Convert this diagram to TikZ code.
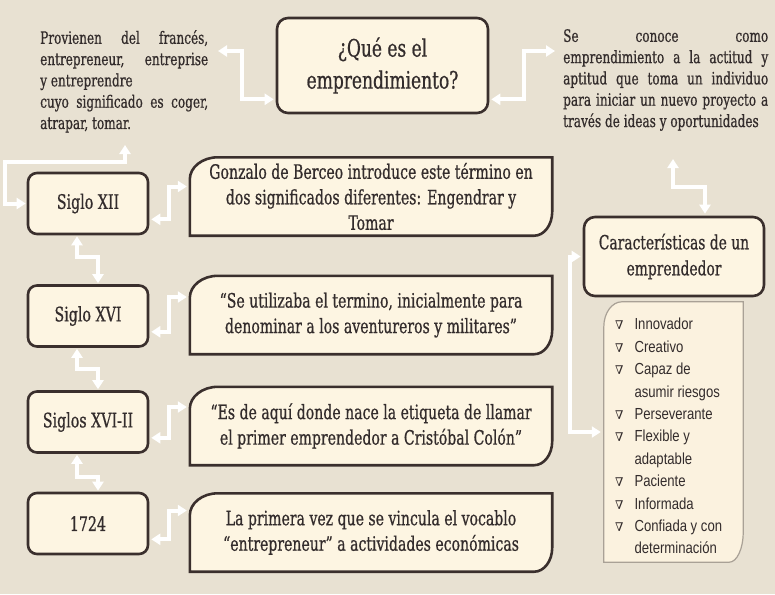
\documentclass[tikz,border=0pt]{standalone}
\usepackage{fontspec}
\setmainfont{DejaVu Serif Condensed}[FakeStretch=0.79,FakeBold=0.7]
\newfontfamily\listfont{Liberation Sans}[FakeStretch=0.82]
\newfontfamily\symfont{DejaVu Serif}
\usetikzlibrary{arrows.meta,backgrounds}
\definecolor{paper}{HTML}{E8E1D2}
\definecolor{boxfill}{HTML}{FDF5E2}
\definecolor{listfill}{HTML}{FBF2DF}
\definecolor{boxline}{HTML}{3A2F2D}
\definecolor{listline}{HTML}{A9A196}
\definecolor{ink}{HTML}{332C2C}
\tikzset{
  mainbox/.style={draw=boxline, fill=boxfill, line width=2.6pt, rounded corners=11pt,
    align=center, text=ink, inner sep=0pt},
  sigbox/.style={mainbox, rounded corners=9pt, minimum width=120pt, minimum height=61pt,
    font=\fontsize{20}{23}\selectfont},
  descbox/.style={minimum width=362pt, minimum height=78pt, align=center, text=ink,
    inner sep=0pt, font=\fontsize{19.8}{25.5}\selectfont},
  tabframe/.style={draw=boxline, fill=boxfill, line width=2.6pt},
  sidetext/.style={anchor=north west, align=justify, text=ink, inner sep=0pt,
    font=\fontsize{17}{21.3}\selectfont},
  conn/.style={draw=white, line width=4pt, <->, >={Triangle[length=9pt,width=11pt]}},
}
\begin{document}
\begin{tikzpicture}[x=1pt,y=-1pt]
  \useasboundingbox (0,0) rectangle (775,594);

  % title and the two side texts
  \node[mainbox, minimum width=211pt, minimum height=95pt,
    font=\fontsize{24}{32}\selectfont] (main) at (382.5,65.5)
    {¿Qué es el\\emprendimiento?};
  \node[sidetext, text width=168pt] (intro) at (40,30)
    {Provienen del francés,\linebreak entrepreneur, entreprise\linebreak
     y entreprendre\\cuyo significado es coger,\linebreak atrapar, tomar.};
  \node[sidetext, text width=205pt] (defi) at (563,29)
    {Se conoce como\linebreak emprendimiento a la actitud y\linebreak
     aptitud que toma un individuo\linebreak para iniciar un nuevo proyecto a\linebreak
     través de ideas y oportunidades};

  % time line
  \node[sigbox] (s1) at (88,203.5) {Siglo XII};
  \node[sigbox] (s2) at (88,316) {Siglo XVI};
  \node[sigbox] (s3) at (88,422) {Siglos XVI-II};
  \node[sigbox] (s4) at (88,523.5) {1724};

  \node[descbox] (d1) at (371,196.5)
    {Gonzalo de Berceo introduce este término en\\dos significados diferentes: Engendrar y\\Tomar};
  \node[descbox] (d2) at (371,315)
    {“Se utilizaba el termino, inicialmente para\\denominar a los aventureros y militares”};
  \node[descbox] (d3) at (371,426)
    {“Es de aquí donde nace la etiqueta de llamar\\el primer emprendedor a Cristóbal Colón”};
  \node[descbox] (d4) at (371,532.5)
    {La primera vez que se vincula el vocablo\\“entrepreneur” a actividades económicas};

  % characteristics
  \node[mainbox, minimum width=180pt, minimum height=79pt,
    font=\fontsize{19.5}{26}\selectfont] (car) at (674,256.5)
    {Características de un\\emprendedor};
  \node[minimum width=139pt, minimum height=260pt, inner sep=0pt] (list) at (673.5,432) {};
  \node[anchor=north west, inner sep=0pt, text=ink] (items) at (615,314)
    {\fontsize{16}{22.4}\selectfont\listfont
     \begin{tabular}{@{}l@{\hspace{11pt}}l@{}}
       {\symfont\fontsize{12}{12}\selectfont ∇} & Innovador\\
       {\symfont\fontsize{12}{12}\selectfont ∇} & Creativo\\
       {\symfont\fontsize{12}{12}\selectfont ∇} & Capaz de\\
       & asumir riesgos\\
       {\symfont\fontsize{12}{12}\selectfont ∇} & Perseverante\\
       {\symfont\fontsize{12}{12}\selectfont ∇} & Flexible y\\
       & adaptable\\
       {\symfont\fontsize{12}{12}\selectfont ∇} & Paciente\\
       {\symfont\fontsize{12}{12}\selectfont ∇} & Informada\\
       {\symfont\fontsize{12}{12}\selectfont ∇} & Confiada y con\\
       & determinación
     \end{tabular}};

  % connectors
  \coordinate (introtip) at (218,51);
  \coordinate (defitip) at (555,51);
  \coordinate (introup) at (125,145);
  \coordinate (defidown) at (673,159);
  \draw[conn] ([xshift=-2pt,yshift=15pt]main.south west) -- ++(-32,0) |- (introtip);
  \draw[conn] ([xshift=2pt,yshift=15pt]main.south east) -- ++(33,0) |- (defitip);
  \draw[conn] ([xshift=-1pt]s1.west) -- ++(-21,0) |- ([yshift=-17pt]introup) -- (introup);
  \draw[conn] (defidown) -- ++(0,28) -| ([xshift=31pt,yshift=2pt]car.north);
  \draw[conn] ([xshift=-2pt]car.west) -- ++(-11,0) |- ([xshift=-3pt]list.west);

  \draw[conn] ([xshift=-11pt,yshift=-1pt]s1.south) -- ++(0,21) -| ([xshift=10pt,yshift=1pt]s2.north);
  \draw[conn] ([xshift=-11pt,yshift=-1pt]s2.south) -- ++(0,20) -| ([xshift=10pt,yshift=1pt]s3.north);
  \draw[conn] ([xshift=-11pt,yshift=-1pt]s3.south) -- ++(0,22) -| ([xshift=10pt,yshift=1pt]s4.north);

  \draw[conn] ([xshift=2pt,yshift=16pt]s1.south east) -- ++(18,0) |- ([xshift=-3pt,yshift=10pt]d1.west);
  \draw[conn] ([xshift=2pt,yshift=16pt]s2.south east) -- ++(18,0) |- ([xshift=-3pt,yshift=18pt]d2.west);
  \draw[conn] ([xshift=2pt,yshift=16pt]s3.south east) -- ++(18,0) |- ([xshift=-3pt,yshift=19pt]d3.west);
  \draw[conn] ([xshift=2pt,yshift=16pt]s4.south east) -- ++(18,0) |- ([xshift=-3pt,yshift=22pt]d4.west);

  \begin{scope}[on background layer]
    \fill[paper] (0,0) rectangle (775,594);
    \foreach \n in {d1,d2,d3,d4}
      \draw[tabframe] (\n.south west) -- ([yshift=-22pt]\n.north west)
        arc[start angle=180, end angle=90, x radius=28pt, y radius=22pt]
        -- (\n.north east) -- ([yshift=24pt]\n.south east)
        arc[start angle=0, end angle=-90, x radius=18pt, y radius=24pt] -- cycle;
    \draw[draw=listline, fill=listfill, line width=1.2pt] (list.south west)
      -- ([yshift=-25pt]list.north west)
      arc[start angle=180, end angle=90, x radius=18pt, y radius=25pt]
      -- (list.north east) -- ([yshift=30pt]list.south east)
      arc[start angle=0, end angle=-90, x radius=14pt, y radius=30pt] -- cycle;
  \end{scope}
\end{tikzpicture}
\end{document}
